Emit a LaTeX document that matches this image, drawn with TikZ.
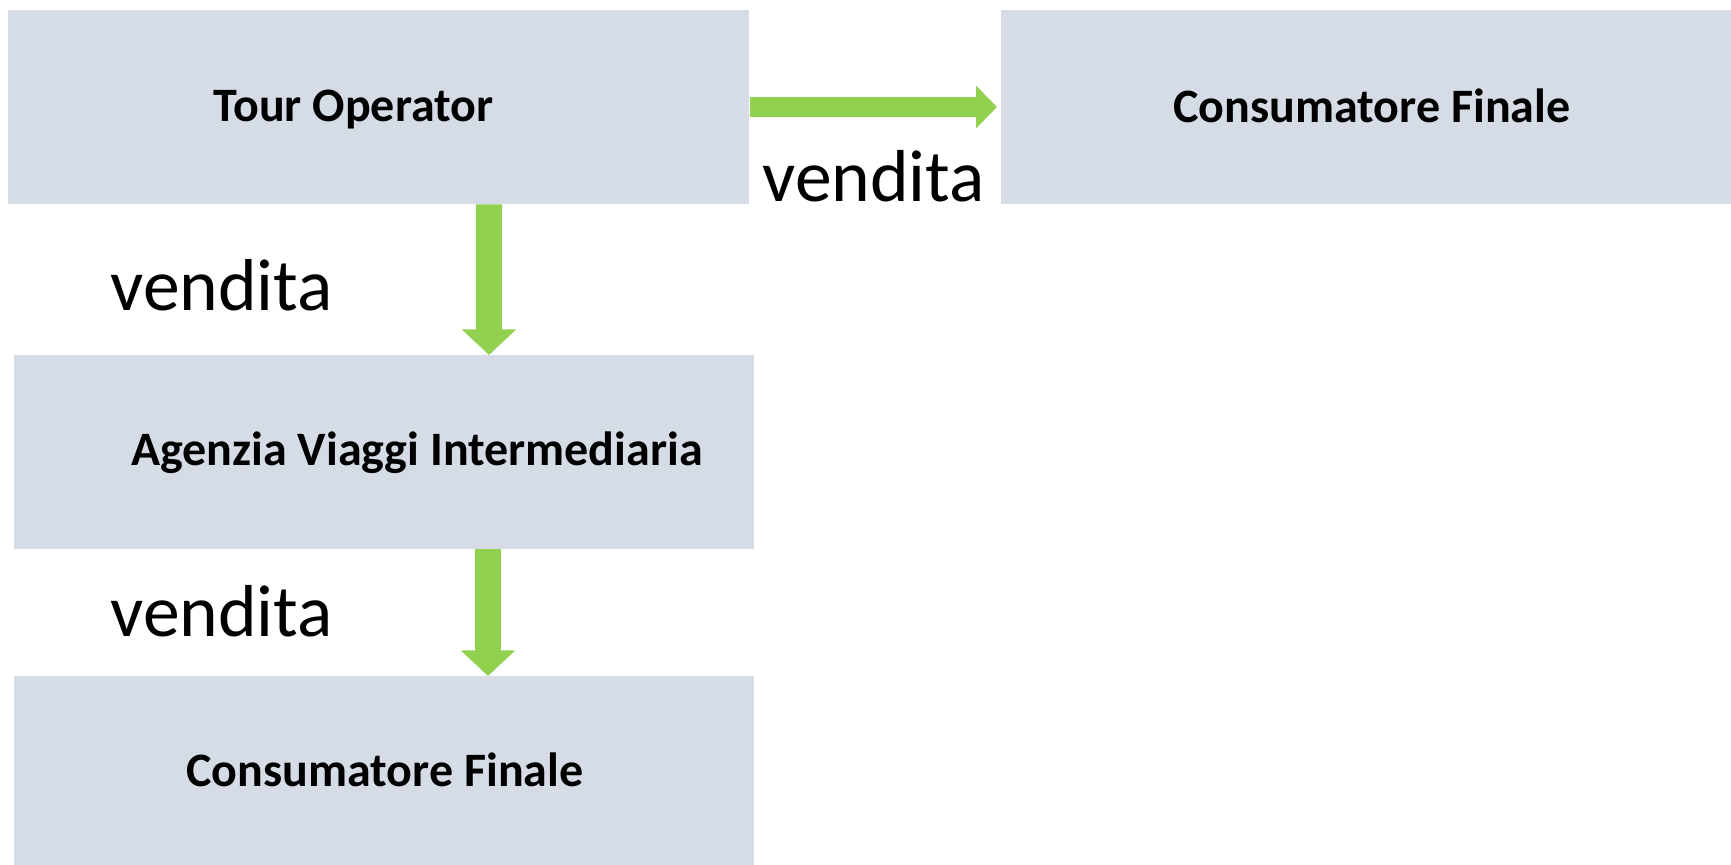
\documentclass[tikz,border=0pt]{standalone}
\usepackage{fontspec}
\setmainfont{Carlito}
\usetikzlibrary{arrows.meta}
\definecolor{boxgray}{HTML}{D5DCE6}
\definecolor{arrowgreen}{HTML}{92D050}
\tikzset{
  box/.style={fill=boxgray, draw=none, anchor=north west, inner sep=0pt,
    minimum width=#1, minimum height=96.75pt},
  boxtext/.style={font=\bfseries\fontsize{24pt}{29pt}\selectfont, anchor=base, inner sep=0pt},
  vlabel/.style={font=\fontsize{36.8pt}{44pt}\selectfont, anchor=base west, inner sep=0pt},
  hsell/.style={arrowgreen, line width=10.3pt, -{Triangle[width=20.8pt, length=10.5pt]}},
  vsell/.style={arrowgreen, line width=13pt, -{Triangle[width=26.5pt, length=12.8pt]}}
}
\begin{document}
\begin{tikzpicture}[x=0.5pt, y=-0.5pt]
  \useasboundingbox (0,0) rectangle (1731,865);
  % boxes
  \node[box=370.65pt] (TO) at (7.7,10) {};
  \node[box=371pt] (CFr) at (1001,10) {};
  \node[box=370pt] (AV) at (14,355) {};
  \node[box=370pt] (CFb) at (14,676) {};
  % box texts
  \node[boxtext] (tTO) at (353.5,121.5) {Tour Operator};
  \node[boxtext] (tCFr) at (1372,122.5) {Consumatore Finale};
  \node[boxtext] (tAV) at (417,466) {Agenzia Viaggi Intermediaria};
  \node[boxtext] (tCFb) at (385,787) {Consumatore Finale};
  % arrows
  \draw[hsell] ([yshift=-48.5pt]TO.north east) -- ([xshift=-2pt, yshift=-48.5pt]CFr.north west);
  \draw[vsell] ([xshift=240.6pt]TO.south west) -- ([xshift=237.5pt]AV.north west);
  \draw[vsell] ([xshift=237pt]AV.south west) -- ([xshift=237pt]CFb.north west);
  % labels
  \node[vlabel] (l1) at (762,202) {vendita};
  \node[vlabel] (l2) at (110,311) {vendita};
  \node[vlabel] (l3) at (110,637) {vendita};
\end{tikzpicture}
\end{document}
